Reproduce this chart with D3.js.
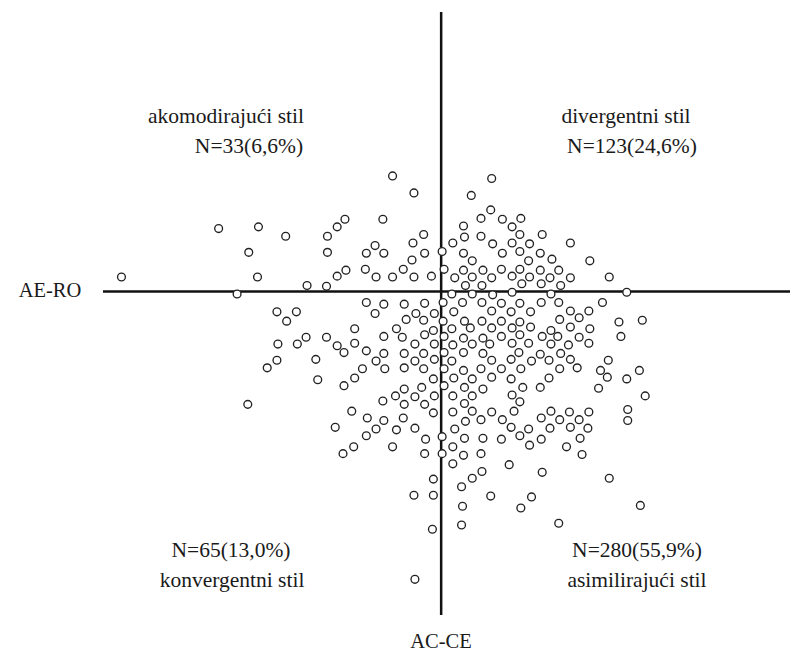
<!DOCTYPE html>
<html><head><meta charset="utf-8">
<script src="https://cdn.jsdelivr.net/npm/d3@7"></script>
<style>html,body{margin:0;padding:0;background:#fff;} svg{display:block;}</style>
</head><body>
<script>
// AC-CE (x) and AE-RO (y) scores, grouped by quadrant
const accommodating = [
[-32.9,1.7],[-22.9,7.4],[-18.8,7.6],[-16.0,6.5],[-19.8,4.6],[-18.9,1.7],[-5.0,13.6],[-2.8,11.6],
[-9.9,8.5],[-10.7,7.6],[-11.7,6.5],[-6.0,8.5],[-1.8,6.7],[-6.8,5.4],[-2.9,5.7],[-7.7,4.5],
[-5.9,4.5],[-11.7,4.6],[-1.7,4.5],[-3.0,3.7],[-9.8,2.5],[-10.7,1.8],[-7.8,2.6],[-6.7,1.7],
[-5.0,1.7],[-3.9,2.6],[-2.8,1.7],[-1.0,1.8],[-13.8,0.7],[-11.8,0.6]
];
const diverging = [
[0.1,4.7],[0.3,2.6],[5.2,13.3],[3.1,11.3],[5.1,9.6],[4.1,8.6],[6.3,8.5],[8.2,8.6],[2.3,7.7],
[7.3,7.6],[2.4,6.4],[4.1,6.5],[8.1,6.7],[10.4,6.7],[1.2,5.7],[5.3,5.6],[7.3,5.7],[9.1,5.6],
[13.3,5.7],[2.3,4.5],[6.3,4.5],[8.1,4.7],[10.2,4.5],[3.2,3.6],[9.0,3.6],[11.4,3.8],[15.3,3.6],
[2.3,2.5],[4.3,2.5],[6.2,2.6],[8.1,2.6],[10.2,2.5],[12.1,2.5],[1.4,1.6],[3.2,1.7],[5.2,1.6],
[7.3,1.8],[9.1,1.7],[11.2,1.6],[13.3,1.6],[17.3,1.7],[2.5,0.7],[4.2,0.7],[8.3,0.9],[10.3,0.9],[12.3,0.7]
];
const converging = [
[-21.0,-0.3],
[-7.7,-1.3],[-5.9,-1.5],[-3.8,-1.5],[-1.7,-1.4],
[-16.9,-2.4],[-14.9,-2.4],[-6.8,-2.6],[-2.6,-2.6],[-0.7,-2.6],
[-15.9,-3.5],[-3.6,-3.3],[-1.8,-3.4],
[-8.9,-4.4],[-4.6,-4.4],[-0.8,-4.6],
[-13.9,-5.4],[-11.8,-5.4],[-5.9,-5.3],[-4.0,-5.4],[-1.7,-5.1],
[-16.8,-6.2],[-14.8,-6.2],[-10.7,-6.4],[-8.9,-6.1],[-2.7,-6.2],[-0.7,-6.2],
[-10.0,-7.2],[-7.7,-7.0],[-5.9,-7.3],[-3.8,-7.3],[-1.8,-7.3],
[-16.9,-8.1],[-12.9,-8.0],[-6.7,-8.2],[-2.7,-8.2],[-0.7,-8.0],
[-17.9,-9.0],[-8.1,-9.1],[-5.8,-9.1],[-3.8,-9.0],[-1.8,-9.1],
[-12.7,-10.4],[-8.9,-10.2],[-0.8,-10.3],
[-10.0,-11.1],[-3.8,-11.5],[-2.0,-11.3],
[-4.7,-12.3],[-2.7,-12.4],[-0.7,-12.3],
[-19.9,-13.3],[-6.0,-12.9],[-3.8,-13.3],[-1.7,-13.3],
[-9.2,-14.1],[-0.8,-14.3],
[-7.6,-14.9],[-5.9,-15.2],[-3.9,-14.9],
[-10.9,-16.0],[-6.7,-16.2],[-4.6,-16.3],[-2.7,-16.1],
[-7.7,-17.0],[-1.6,-17.4],
[-9.0,-18.3],[-5.0,-18.3],
[-10.1,-19.1],[-1.7,-19.1],
[-0.8,-22.1],[-2.8,-24.0],[-0.8,-24.0],[-0.9,-28.0],[-2.7,-33.9]
];
const assimilating = [
[0.2,-1.3],[0.2,-3.5],[0.3,-5.3],[0.3,-7.2],[0.3,-9.1],[0.3,-11.1],[0.1,-17.1],[0.1,-19.1],
[1.1,-0.3],[3.2,-0.3],[5.3,-0.4],[7.3,-0.1],[11.3,-0.3],[19.1,-0.1],
[2.2,-1.3],[4.2,-1.3],[6.2,-1.4],[8.1,-1.4],[10.3,-1.3],[12.1,-1.3],[16.6,-1.3],
[1.3,-2.4],[5.2,-2.3],[7.2,-2.4],[9.2,-2.4],[13.3,-2.3],[15.2,-2.3],
[2.4,-3.5],[4.2,-3.5],[6.2,-3.5],[8.1,-3.6],[12.2,-3.3],[14.2,-3.1],[18.3,-3.6],[20.7,-3.4],
[1.1,-4.4],[3.0,-4.3],[5.2,-4.3],[7.3,-4.3],[9.2,-4.2],[11.3,-4.6],[13.3,-4.2],[15.3,-4.4],
[2.3,-5.5],[4.3,-5.5],[6.2,-5.3],[8.1,-5.1],[10.4,-5.3],[12.0,-5.3],[14.2,-5.4],[18.5,-5.3],
[1.2,-6.3],[3.2,-6.2],[5.0,-6.2],[7.3,-6.1],[9.0,-6.1],[11.3,-6.2],[13.1,-6.3],[15.2,-6.1],
[2.3,-7.2],[4.3,-7.3],[8.0,-7.2],[10.2,-7.4],[12.3,-7.3],
[1.1,-8.2],[5.2,-8.1],[7.2,-8.0],[9.3,-8.2],[11.1,-8.1],[13.3,-8.0],[17.2,-8.1],
[2.3,-9.3],[4.1,-9.1],[6.2,-9.1],[8.2,-9.1],[12.2,-9.1],[14.0,-9.0],[16.4,-9.3],[20.4,-9.3],
[1.3,-10.2],[3.2,-10.3],[5.2,-10.1],[7.2,-10.3],[11.1,-10.2],[17.1,-10.1],[19.1,-10.3],
[2.4,-11.3],[4.3,-11.5],[8.4,-11.3],[10.2,-11.3],[16.2,-11.4],
[1.2,-12.3],[3.2,-12.3],[7.3,-12.2],[21.0,-12.3],
[2.4,-13.2],[8.1,-13.0],
[1.2,-14.2],[3.2,-14.1],[5.2,-14.2],[7.5,-14.1],[11.3,-14.1],[13.2,-14.2],[15.2,-14.2],[19.2,-13.9],
[2.5,-15.3],[4.1,-15.1],[6.3,-15.1],[10.3,-14.9],[12.2,-15.1],[14.2,-15.1],[19.2,-15.2],
[1.4,-16.2],[7.2,-16.0],[9.0,-16.2],[11.2,-16.1],[13.3,-16.0],[15.1,-16.1],
[2.4,-17.3],[4.3,-17.3],[6.2,-17.4],[8.1,-17.0],[10.3,-17.4],[14.3,-17.3],
[1.2,-18.3],[9.1,-18.1],[12.9,-18.3],
[2.3,-19.3],[4.1,-19.1],[14.5,-19.2],
[1.2,-20.3],[7.0,-20.4],[4.2,-21.2],[3.2,-22.0],[10.4,-21.3],[17.3,-22.0],[2.1,-23.0],
[5.1,-24.1],[9.3,-24.2],[2.2,-25.3],[8.2,-25.5],[20.5,-25.2],[2.1,-27.5],[12.1,-27.3]
];
const xDomain = [-34.8, 35.9];
const yDomain = [-38.1, 32.9];
const axisNames = ["AC-CE", "AE-RO"];
const quadrantTitles = ["akomodirajući stil", "divergentni stil", "konvergentni stil", "asimilirajući stil"];
const quadrantCounts = ["N=33(6,6%)", "N=123(24,6%)", "N=65(13,0%)", "N=280(55,9%)"];

const W = 802, H = 658;
const svg = d3.select("body").append("svg").attr("width", W).attr("height", H);
const x = d3.scaleLinear().domain(xDomain).range([103, 790]);
const y = d3.scaleLinear().domain(yDomain).range([615, 12]);

// axes
svg.append("line").attr("x1", x(xDomain[0])).attr("x2", x(xDomain[1]))
  .attr("y1", y(0)).attr("y2", y(0)).attr("stroke", "#111").attr("stroke-width", 2.5);
svg.append("line").attr("x1", x(0)).attr("x2", x(0))
  .attr("y1", y(yDomain[1])).attr("y2", y(yDomain[0])).attr("stroke", "#111").attr("stroke-width", 2.5);

const all = [].concat(accommodating, diverging, converging, assimilating);
svg.append("g").selectAll("circle").data(all).join("circle")
  .attr("cx", d => x(d[0])).attr("cy", d => y(d[1])).attr("r", 3.9)
  .attr("fill", "#fff").attr("stroke", "#222").attr("stroke-width", 1.35);

const font = "'Liberation Serif', 'Times New Roman', serif";
function label(t, px, py, size) {
  svg.append("text").attr("x", px).attr("y", py).attr("text-anchor", "middle")
    .attr("font-family", font).attr("font-size", size).attr("fill", "#1a1a1a").text(t);
}
label(quadrantTitles[0], 226, 123, 21.5);
label(quadrantCounts[0], 249, 153, 21.5);
label(quadrantTitles[1], 626, 123, 21.5);
label(quadrantCounts[1], 632, 153, 21.5);
label(quadrantCounts[2], 231, 557, 21.5);
label(quadrantTitles[2], 232, 587, 21.5);
label(quadrantCounts[3], 637, 557, 21.5);
label(quadrantTitles[3], 637, 587, 21.5);
label(axisNames[0], 441, 648, 20.5);
label(axisNames[1], 50, 297, 20.5);
</script>
</body></html>
